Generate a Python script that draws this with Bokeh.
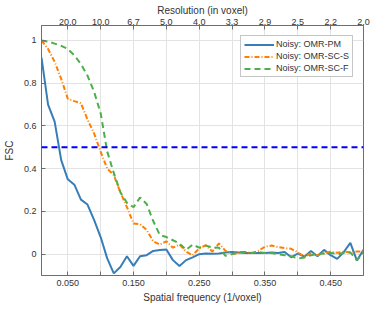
from bokeh.plotting import figure
from bokeh.models import LinearAxis, FixedTicker, Span, Legend, LegendItem, Range1d
from bokeh.embed import file_html
from bokeh.resources import INLINE

freq = [0.01, 0.02, 0.03, 0.04, 0.05, 0.06, 0.07, 0.08, 0.09, 0.10,
        0.11, 0.12, 0.13, 0.14, 0.15, 0.16, 0.17, 0.18, 0.19, 0.20,
        0.21, 0.22, 0.23, 0.24, 0.25, 0.26, 0.27, 0.28, 0.29, 0.30,
        0.31, 0.32, 0.33, 0.34, 0.35, 0.36, 0.37, 0.38, 0.39, 0.40,
        0.41, 0.42, 0.43, 0.44, 0.45, 0.46, 0.47, 0.48, 0.49, 0.50]

omr_pm = [0.92, 0.70, 0.62, 0.44, 0.35, 0.325, 0.255, 0.232, 0.16, 0.08,
          -0.02, -0.09, -0.06, -0.01, -0.055, -0.01, -0.005, 0.015, 0.019, 0.022,
          -0.028, -0.056, -0.028, -0.015, 0.0, 0.003, 0.002, 0.003, 0.008, 0.01,
          0.008, 0.005, 0.005, 0.005, 0.005, 0.008, 0.005, 0.01, -0.015, 0.003,
          -0.012, 0.015, -0.01, 0.02, -0.005, -0.022, 0.01, 0.053, -0.03, 0.02]

omr_sc_s = [1.0, 0.96, 0.90, 0.82, 0.728, 0.716, 0.706, 0.63, 0.565, 0.48,
            0.40, 0.37, 0.29, 0.22, 0.143, 0.14, 0.113, 0.06, 0.045, 0.06,
            0.03, 0.045, 0.012, -0.005, 0.027, 0.042, 0.012, 0.05, 0.015, 0.0,
            0.005, 0.01, 0.006, 0.015, 0.035, 0.04, 0.033, 0.028, 0.025, 0.008,
            -0.012, 0.003, -0.005, 0.005, 0.011, 0.006, 0.012, 0.008, 0.012, 0.013]

omr_sc_f = [1.0, 0.995, 0.985, 0.975, 0.96, 0.93, 0.89, 0.835, 0.76, 0.66,
            0.48, 0.38, 0.29, 0.24, 0.22, 0.265, 0.235, 0.155, 0.09, 0.08,
            0.065, 0.05, 0.02, 0.045, 0.03, 0.04, 0.031, 0.03, -0.008, 0.0,
            0.01, 0.01, 0.005, 0.01, 0.005, 0.005, 0.0, -0.005, -0.01, -0.02,
            -0.016, -0.005, 0.0, 0.003, 0.006, 0.0, 0.005, 0.008, -0.028, 0.005]

threshold = 0.5

x_ticks = [0.05, 0.1, 0.15, 0.2, 0.25, 0.3, 0.35, 0.4, 0.45, 0.5]
x_tick_labels = ["0.050", "", "0.150", "", "0.250", "", "0.350", "", "0.450", ""]
top_tick_labels = ["20.0", "10.0", "6.7", "5.0", "4.0", "3.3", "2.9", "2.5", "2.2", "2.0"]
y_ticks = [0, 0.2, 0.4, 0.6, 0.8, 1]
y_tick_labels = ["0", "0.2", "0.4", "0.6", "0.8", "1"]

series_names = ["Noisy: OMR-PM", "Noisy: OMR-SC-S", "Noisy: OMR-SC-F"]
colors = ["#377eb8", "#ff7f00", "#4daf4a"]

FONT = "Liberation Sans"
TXT = "#333333"
AX = "#6e6e6e"

p = figure(width=373, height=309, output_backend="svg", toolbar_location=None,
           x_range=Range1d(0.01, 0.5), y_range=Range1d(-0.1, 1.07),
           x_axis_location=None, y_axis_location=None,
           min_border_left=39, min_border_right=10, min_border_top=25, min_border_bottom=34)
p.outline_line_color = AX
p.outline_line_width = 1
p.background_fill_color = "white"

def style_axis(ax):
    ax.axis_line_color = AX
    ax.major_tick_line_color = AX
    ax.minor_tick_line_color = None
    ax.major_tick_in = 4
    ax.major_tick_out = 0
    ax.major_label_text_font = FONT
    ax.major_label_text_font_size = "9px"
    ax.major_label_text_color = TXT
    ax.axis_label_text_font = FONT
    ax.axis_label_text_font_size = "10px"
    ax.axis_label_text_font_style = "normal"
    ax.axis_label_text_color = TXT

bottom = LinearAxis(ticker=FixedTicker(ticks=x_ticks), axis_label="Spatial frequency (1/voxel)")
bottom.major_label_overrides = {t: l for t, l in zip(x_ticks, x_tick_labels)}
style_axis(bottom)
bottom.major_label_standoff = 4
bottom.axis_label_standoff = 3
p.add_layout(bottom, "below")

top = LinearAxis(ticker=FixedTicker(ticks=x_ticks), axis_label="Resolution (in voxel)")
top.major_label_overrides = {t: l for t, l in zip(x_ticks, top_tick_labels)}
style_axis(top)
top.major_label_standoff = 1
top.axis_label_standoff = 0
p.add_layout(top, "above")

left = LinearAxis(ticker=FixedTicker(ticks=y_ticks), axis_label="FSC")
left.major_label_overrides = {t: l for t, l in zip(y_ticks, y_tick_labels)}
style_axis(left)
left.major_label_standoff = 5
left.axis_label_standoff = 6
p.add_layout(left, "left")

p.xgrid.ticker = FixedTicker(ticks=x_ticks)
p.ygrid.ticker = FixedTicker(ticks=y_ticks)
p.xgrid.grid_line_color = "#e3e3e3"
p.ygrid.grid_line_color = "#e3e3e3"
p.xgrid.grid_line_width = 1
p.ygrid.grid_line_width = 1

p.add_layout(Span(location=threshold, dimension="width", line_color="#0000ff",
                  line_width=2, line_dash="6 4"))

r1 = p.line(freq, omr_pm, line_color=colors[0], line_width=2)
r2 = p.line(freq, omr_sc_s, line_color=colors[1], line_width=2, line_dash="5 2 1 2")
r3 = p.line(freq, omr_sc_f, line_color=colors[2], line_width=2, line_dash="6 4")

legend = Legend(items=[LegendItem(label=series_names[0], renderers=[r1]),
                       LegendItem(label=series_names[1], renderers=[r2]),
                       LegendItem(label=series_names[2], renderers=[r3])],
                location="top_right")
legend.label_text_font = FONT
legend.label_text_font_size = "9px"
legend.label_text_color = TXT
legend.label_height = 9
legend.label_standoff = 2
legend.glyph_width = 30
legend.glyph_height = 9
legend.spacing = 2
legend.padding = 3
legend.margin = 10
legend.border_line_color = "#8c8c8c"
legend.border_line_width = 1
legend.background_fill_alpha = 1
p.add_layout(legend, "center")

open("out.html", "w").write(file_html(p, INLINE))
